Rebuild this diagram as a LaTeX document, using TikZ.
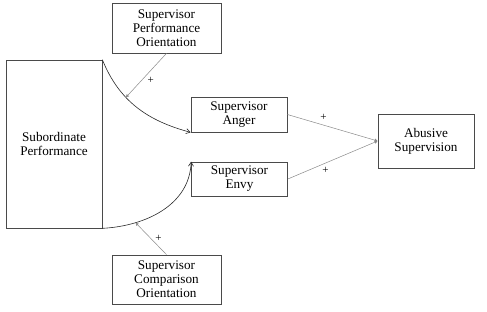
\documentclass[tikz,border=0pt]{standalone}
\usepackage{fontspec}
\setmainfont{Liberation Serif}
\usetikzlibrary{arrows.meta, positioning, calc}
\definecolor{dkline}{HTML}{2A2A2A}
\definecolor{ltline}{HTML}{8A8A8A}
\definecolor{boxline}{HTML}{4A4A4A}

\begin{document}
\begin{tikzpicture}[
  x=1pt, y=1pt,
  curvearr/.style={-{Straight Barb[length=4pt, width=5pt]}, line width=0.6pt, dkline},
  modarr/.style={-{Latex[length=3pt, width=3.5pt]}, line width=0.5pt, ltline},
  pathlbl/.style={font=\rmfamily\fontsize{11}{12}\selectfont, text=black, inner sep=1pt},
]

% =============================================
% Box style
% =============================================
\tikzset{
  varbox/.style 2 args={
    draw=boxline, line width=0.7pt, fill=white,
    minimum width=#1, minimum height=#2,
    align=center, inner sep=2pt,
    font=\rmfamily\fontsize{13.2}{14}\selectfont,
  },
}

\useasboundingbox (0,0) rectangle (487,312);

% =============================================
% Variables
% =============================================
\node[varbox={96pt}{168pt}] (subperf) at (54,168) {Subordinate\\Performance};
\node[varbox={109pt}{50pt}] (perforient) at (166.5,284) {Supervisor\\Performance\\Orientation};
\node[varbox={96pt}{35pt}] (anger) at (239,197.5) {Supervisor\\Anger};
\node[varbox={96pt}{34pt}] (envy) at (239.5,133) {Supervisor\\Envy};
\node[varbox={96pt}{54pt}] (abuse) at (426,171) {Abusive\\Supervision};
\node[varbox={109pt}{49pt}] (comporient) at (166.5,32.5) {Supervisor\\Comparison\\Orientation};

% =============================================
% Curved paths from subordinate performance
% =============================================
\draw[curvearr] (subperf.north east) to[out=-68, in=165]
  coordinate[pos=0.37] (modtop) (anger.south west);
\draw[curvearr] (subperf.south east) to[out=3, in=-92]
  coordinate[pos=0.26] (modbot) (envy.north west);

% =============================================
% Moderators
% =============================================
\draw[modarr] (perforient.south) -- (modtop)
  node[pos=0.62, right=5pt, pathlbl] {+};
\draw[modarr] (comporient.north) -- (modbot)
  node[pos=0.5, right=3pt, pathlbl] {+};

% =============================================
% Emotions to abusive supervision
% =============================================
\draw[modarr] (anger.east) -- (abuse.west)
  node[pos=0.4, above=3pt, pathlbl] {+};
\draw[modarr] (envy.east) -- (abuse.west)
  node[pos=0.42, below=3pt, pathlbl] {+};

\end{tikzpicture}
\end{document}
